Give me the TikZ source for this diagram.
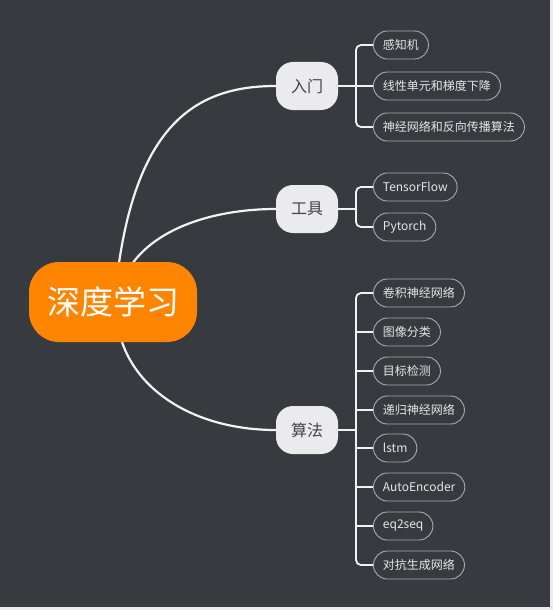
\documentclass[tikz,border=0pt]{standalone}
\usepackage{fontspec}
\setmainfont{Noto Sans CJK SC}
\begin{document}
\begin{tikzpicture}[x=1pt,y=-1pt,
  rootbox/.style={fill=rootor, rounded corners=30pt, text=white, font=\fontsize{33}{36}\selectfont, minimum width=168pt, minimum height=80pt, inner sep=0pt},
  branchbox/.style={fill=branchfill, rounded corners=17pt, text=branchtext, font=\fontsize{16}{18}\selectfont, minimum width=62pt, minimum height=48pt, inner sep=0pt},
  leafbox/.style={draw=leafline, line width=0.9pt, rounded corners=14pt, text=leaftext, font=\fontsize{12}{14}\selectfont, minimum height=28pt, inner xsep=9.5pt, inner ysep=0pt, anchor=west},
  trunk/.style={draw=linecol, line width=2.2pt},
  twig/.style={draw=linecol, line width=1.8pt, rounded corners=5pt}
]
\definecolor{bgcol}{HTML}{373A3F}
\definecolor{rootor}{HTML}{FF8400}
\definecolor{branchfill}{HTML}{EBEBED}
\definecolor{branchtext}{HTML}{404348}
\definecolor{leafline}{HTML}{A9ABAE}
\definecolor{leaftext}{HTML}{E6E6E6}
\definecolor{linecol}{HTML}{F2F2F2}
\useasboundingbox (0,0) rectangle (553,610);
\fill[gray!15] (0,0) rectangle (553,610);
\fill[bgcol] (0,0) rectangle (550,607);

% connectors root -> branches (drawn first)
\coordinate (r1) at (119,263);
\coordinate (r2) at (132,264);
\coordinate (r3) at (122,342);

\node[branchbox] (b1) at (307,86) {入门};
\node[branchbox] (b2) at (307,209) {工具};
\node[branchbox] (b3) at (307,430) {算法};

\draw[trunk] (r1) .. controls (140,120) and (200,86) .. (b1.west);
\draw[trunk] (r2) .. controls (160,225) and (220,209) .. (b2.west);
\draw[trunk] (r3) .. controls (140,395) and (200,430) .. (b3.west);

\node[rootbox] (root) at (113,302) {深度学习};

% leaves
\node[leafbox] (l1) at (373,45) {感知机};
\node[leafbox] (l2) at (373,86) {线性单元和梯度下降};
\node[leafbox] (l3) at (373,127) {神经网络和反向传播算法};

\node[leafbox] (t1) at (373,187) {TensorFlow};
\node[leafbox] (t2) at (373,227) {Pytorch};

\node[leafbox] (a1) at (373,293) {卷积神经网络};
\node[leafbox] (a2) at (373,332) {图像分类};
\node[leafbox] (a3) at (373,371) {目标检测};
\node[leafbox] (a4) at (373,410) {递归神经网络};
\node[leafbox] (a5) at (373,448) {lstm};
\node[leafbox] (a6) at (373,487) {AutoEncoder};
\node[leafbox] (a7) at (373,526) {eq2seq};
\node[leafbox] (a8) at (373,565) {对抗生成网络};

% brackets
\coordinate (k1) at (356,86);
\coordinate (k2) at (356,209);
\coordinate (k3) at (356,430);

\draw[twig] (b1.east) -- (k1);
\draw[twig] (l1.west) -- (l1.west -| k1) -- (l3.west -| k1) -- (l3.west);
\draw[twig] (k1) -- (l2.west);

\draw[twig] (b2.east) -- (k2);
\draw[twig] (t1.west) -- (t1.west -| k2) -- (t2.west -| k2) -- (t2.west);

\draw[twig] (b3.east) -- (k3);
\draw[twig] (a1.west) -- (a1.west -| k3) -- (a8.west -| k3) -- (a8.west);
\foreach \n in {a2,a3,a4,a5,a6,a7} {
  \draw[twig] (\n.west -| k3) -- (\n.west);
}
\end{tikzpicture}
\end{document}
